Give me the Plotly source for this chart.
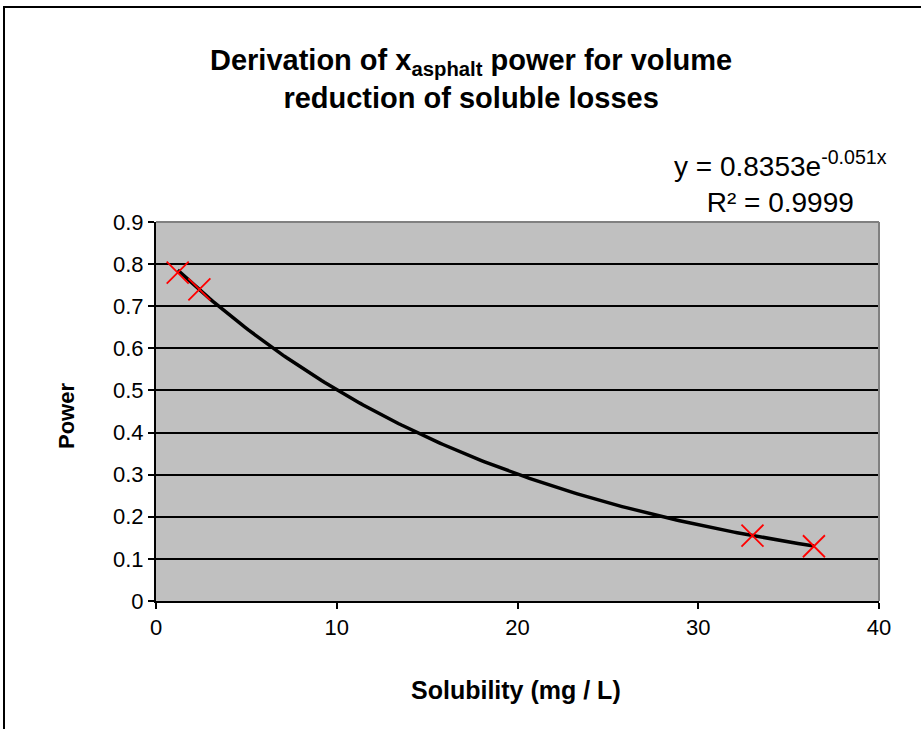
import numpy as np
import plotly.graph_objects as go

# Data
solubility = [1.2, 2.4, 33.0, 36.4]
power = [0.78, 0.74, 0.155, 0.13]

# Trendline coefficients shown on chart
fit_a = 0.8353
fit_b = -0.051
r2_text = "0.9999"

x_ticks = [0, 10, 20, 30, 40]
y_ticks = [0, 0.1, 0.2, 0.3, 0.4, 0.5, 0.6, 0.7, 0.8, 0.9]

W, H = 921, 729
L, R, T, B = 156, 879, 222, 601

def px(x):
    return (x - L) / (R - L)

def py(y):
    return (B - y) / (B - T)

xt = np.linspace(min(solubility), max(solubility), 200)
yt = fit_a * np.exp(fit_b * xt)

font = "Liberation Sans, Arial, sans-serif"

fig = go.Figure()
fig.add_trace(go.Scatter(x=xt, y=yt, mode="lines",
                         line=dict(color="black", width=3.5), showlegend=False))
fig.add_trace(go.Scatter(x=solubility, y=power, mode="markers",
                         marker=dict(symbol="x-thin", size=22,
                                     line=dict(color="#FF0000", width=1.8)),
                         showlegend=False))

fig.update_layout(
    width=W, height=H,
    margin=dict(l=L, r=W - R, t=T, b=H - B),
    paper_bgcolor="white",
    plot_bgcolor="#C0C0C0",
    font=dict(family=font, color="black", size=22),
    showlegend=False,
    xaxis=dict(range=[0, 40], tickvals=x_ticks, ticks="outside", ticklen=6,
               tickcolor="black", tickwidth=2, showgrid=False, zeroline=False,
               showline=True, linecolor="black", linewidth=2,
               tickfont=dict(size=22)),
    yaxis=dict(range=[0, 0.9], tickvals=y_ticks, ticktext=[("%g" % v) for v in y_ticks],
               ticks="outside", ticklen=6, tickcolor="black", tickwidth=2,
               showgrid=True, gridcolor="black", gridwidth=2, zeroline=False,
               showline=True, linecolor="black", linewidth=2,
               tickfont=dict(size=22)),
    shapes=[
        # plot area grey right/top border
        dict(type="line", xref="paper", yref="paper", x0=1, x1=1, y0=0, y1=1,
             line=dict(color="#808080", width=2)),
        dict(type="line", xref="paper", yref="paper", x0=0, x1=1, y0=1, y1=1,
             line=dict(color="#808080", width=2)),
        # chart area border
        dict(type="rect", xref="paper", yref="paper",
             x0=px(4), x1=px(1100), y0=py(7), y1=py(900),
             line=dict(color="black", width=2), layer="below"),
    ],
    annotations=[
        dict(text="<b>Derivation of x<sub>asphalt</sub> power for volume<br>reduction of soluble losses</b>",
             xref="paper", yref="paper", x=px(471), y=py(79), xanchor="center", yanchor="middle",
             showarrow=False, font=dict(size=29, family=font)),
        dict(text="y = %.4fe<sup>%.3fx</sup><br>R² = %s" % (fit_a, fit_b, r2_text),
             xref="paper", yref="paper", x=px(780), y=py(182), xanchor="center", yanchor="middle",
             showarrow=False, font=dict(size=28, family=font)),
        dict(text="<b>Power</b>", textangle=-90,
             xref="paper", yref="paper", x=px(66), y=py(416), xanchor="center", yanchor="middle",
             showarrow=False, font=dict(size=22, family=font)),
        dict(text="<b>Solubility (mg / L)</b>",
             xref="paper", yref="paper", x=px(516), y=py(690), xanchor="center", yanchor="middle",
             showarrow=False, font=dict(size=25, family=font)),
    ],
)

fig.write_html("out.html")
